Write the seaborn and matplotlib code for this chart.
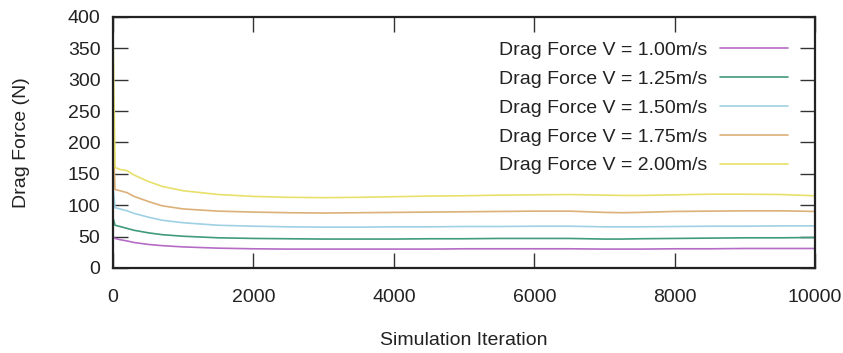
import numpy as np
import pandas as pd
import matplotlib
matplotlib.use("Agg")
import matplotlib.pyplot as plt
import seaborn as sns

# Iteration sample points shared by all runs
iterations = [0, 30, 100, 200, 300, 500, 700, 1000, 1500, 2000, 2500, 3000,
              3500, 4000, 4500, 5000, 5500, 6000, 6500, 7000, 7250, 7500,
              8000, 8500, 9000, 9500, 10000]

drag_100 = [50, 47, 45, 43, 40.5, 37.5, 35.5, 33.5, 31.5, 30.5, 30, 30,
            30, 30, 30, 30.5, 30.5, 30.5, 30.5, 30, 30, 30, 30.5, 30.5, 31, 31, 31]
drag_125 = [80, 68, 66, 63, 60, 56, 53, 50.5, 48, 47, 46.5, 46,
            46, 46, 46.5, 46.5, 47, 47, 47, 46, 46, 46.5, 47, 47.5, 48, 48, 48.5]
drag_150 = [130, 96, 94, 91, 87, 81, 76, 72, 68, 66.5, 65.5, 65,
            65, 65.5, 65.5, 66, 66, 66.5, 66.5, 65.5, 65.5, 65.5, 66, 66.5, 66.5, 67, 67]
drag_175 = [210, 125, 123, 120, 114, 106, 99, 94, 90.5, 89, 88, 87.5,
            88, 88.5, 89, 89.5, 90, 90.5, 90.5, 88.5, 88, 88.5, 90, 90.5, 91, 91, 90]
drag_200 = [385, 160, 157, 155, 148, 138, 130, 123, 117, 114, 112.5, 112,
            112.5, 113.5, 114.5, 115, 116, 116.5, 117, 116, 115.5, 115.5, 116.5, 117.5, 117.5, 117, 115]

labels = ["Drag Force V = 1.00m/s", "Drag Force V = 1.25m/s",
          "Drag Force V = 1.50m/s", "Drag Force V = 1.75m/s",
          "Drag Force V = 2.00m/s"]
series = [drag_100, drag_125, drag_150, drag_175, drag_200]
colors = ["#b66cc6", "#3f9a7e", "#9fd0e4", "#dcb078", "#e8e06a"]

x_ticks = [0, 2000, 4000, 6000, 8000, 10000]
y_ticks = [0, 50, 100, 150, 200, 250, 300, 350, 400]

df = pd.concat(
    [pd.DataFrame({"Iteration": iterations, "Drag": vals, "Run": lab})
     for lab, vals in zip(labels, series)],
    ignore_index=True,
)

sns.set_style("ticks")
plt.rcParams["font.family"] = ["Liberation Sans", "DejaVu Sans"]

fig = plt.figure(figsize=(8.43, 3.53), dpi=100)
ax = fig.add_axes([0.134, 0.241, 0.833, 0.711])

sns.lineplot(data=df, x="Iteration", y="Drag", hue="Run", hue_order=labels,
             palette=colors, linewidth=1.2, ax=ax, legend=True)

ax.set_xlim(0, 10000)
ax.set_ylim(0, 400)
ax.set_xticks(x_ticks)
ax.set_yticks(y_ticks)
ax.tick_params(axis="both", direction="in", length=10.5, width=1.0,
               color="#333333", labelsize=14, labelcolor="#222222",
               top=True, right=True)
ax.tick_params(axis="x", pad=15)
ax.tick_params(axis="y", pad=9)
for sp in ax.spines.values():
    sp.set_visible(True)
    sp.set_linewidth(1.6)
    sp.set_color("#222222")

ax.set_xlabel("Simulation Iteration", fontsize=14, color="#222222", labelpad=19)
ax.set_ylabel("Drag Force (N)", fontsize=14, color="#222222", labelpad=27)

handles, labs = ax.get_legend_handles_labels()
leg = ax.legend(handles, labs, loc="upper right", bbox_to_anchor=(0.9615, 0.903),
                frameon=False, markerfirst=False, fontsize=14,
                handlelength=3.5, handletextpad=0.67, labelspacing=0.58,
                borderaxespad=0.0, borderpad=0.0)
for t in leg.get_texts():
    t.set_color("#222222")

fig.savefig("out.png", dpi=100)
